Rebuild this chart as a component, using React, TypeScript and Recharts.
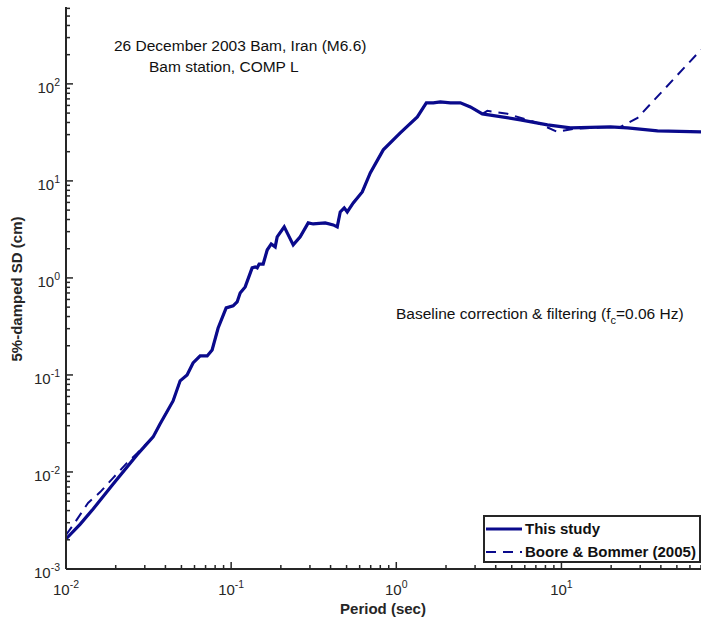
import React from "react";
import { LineChart, Line, XAxis, YAxis, Legend, Customized } from "recharts";

// This study (solid)
const periodStudy = [
  0.01, 0.0122, 0.0146, 0.0193, 0.0269, 0.0337, 0.0371, 0.0445, 0.0491, 0.0541,
  0.0588, 0.0649, 0.0716, 0.0767, 0.0834, 0.0933, 0.1028, 0.1087, 0.1134, 0.1216,
  0.134, 0.1398, 0.1438, 0.1478, 0.1563, 0.1653, 0.1748, 0.1848, 0.19, 0.2096,
  0.2216, 0.2376, 0.2619, 0.2929, 0.3141, 0.3713, 0.4152, 0.4389, 0.4577, 0.4839,
  0.5047, 0.5488, 0.6222, 0.6957, 0.834, 1.057, 1.341, 1.52, 1.676, 1.848,
  2.125, 2.443, 2.809, 3.32, 5.64, 8.23, 11.34, 19.8, 25.1, 38.2, 70,
];
const sdStudy = [
  0.00204, 0.0029, 0.00416, 0.0075, 0.015, 0.023, 0.0313, 0.054, 0.087, 0.1,
  0.133, 0.157, 0.157, 0.181, 0.305, 0.491, 0.515, 0.566, 0.7, 0.808,
  1.27, 1.3, 1.27, 1.39, 1.39, 1.94, 2.24, 2.09, 2.65, 3.36,
  2.78, 2.19, 2.65, 3.69, 3.6, 3.69, 3.52, 3.36, 4.79, 5.27,
  4.79, 5.93, 7.7, 12.1, 20.9, 31.2, 45.7, 63.7, 63.7, 65.2,
  63.7, 63.7, 57.9, 49.1, 42.6, 37.8, 35.2, 36.0, 35.2, 32.8, 32.0,
];

// Boore & Bommer (2005) (dashed)
const periodBoore = [
  0.01, 0.0113, 0.0136, 0.0161, 0.0193, 0.0234, 0.0269, 0.0337, 0.0371, 0.0445,
  0.0491, 0.0541, 0.0588, 0.0649, 0.0716, 0.0767, 0.0834, 0.0933, 0.1028, 0.1087,
  0.1134, 0.1216, 0.134, 0.1398, 0.1438, 0.1478, 0.1563, 0.1653, 0.1748, 0.1848,
  0.19, 0.2096, 0.2216, 0.2376, 0.2619, 0.2929, 0.3141, 0.3713, 0.4152, 0.4389,
  0.4577, 0.4839, 0.5047, 0.5488, 0.6222, 0.6957, 0.834, 1.057, 1.341, 1.52,
  1.676, 1.848, 2.125, 2.443, 2.809, 3.32, 3.56, 4.71, 7.15, 9.46,
  11.8, 19.8, 22.8, 28.9, 70,
];
const sdBoore = [
  0.00224, 0.003, 0.0048, 0.0062, 0.0087, 0.0124, 0.0155, 0.023, 0.0313, 0.054,
  0.087, 0.1, 0.133, 0.157, 0.157, 0.181, 0.305, 0.491, 0.515, 0.566,
  0.7, 0.808, 1.27, 1.3, 1.27, 1.39, 1.39, 1.94, 2.24, 2.09,
  2.65, 3.36, 2.78, 2.19, 2.65, 3.69, 3.6, 3.69, 3.52, 3.36,
  4.79, 5.27, 4.79, 5.93, 7.7, 12.1, 20.9, 31.2, 45.7, 63.7,
  63.7, 65.2, 63.7, 63.7, 57.9, 49.1, 52.7, 49.1, 39.6, 32.0,
  34.4, 36.0, 36.0, 44.6, 225,
];

const seriesNames = ["This study", "Boore & Bommer (2005)"];

const xDecades = [0.01, 0.1, 1, 10];
const yDecades = [0.001, 0.01, 0.1, 1, 10, 100];
const mantissas = [1, 2, 3, 4, 5, 6, 7, 8, 9];
const xTicks = xDecades.flatMap((d) => mantissas.map((m) => +(m * d).toPrecision(3))).filter((v) => v <= 70);
const yTicks = yDecades.flatMap((d) => mantissas.map((m) => +(m * d).toPrecision(3))).filter((v) => v <= 620);

const titleLines = ["26 December 2003 Bam, Iran (M6.6)", "Bam station, COMP L"];
const noteText = "Baseline correction & filtering (f";
const noteSub = "c";
const noteEnd = "=0.06 Hz)";
const xTitle = "Period (sec)";
const yTitle = "5%-damped SD (cm)";

const studyData = periodStudy.map((p, i) => ({ period: p, sd: sdStudy[i] }));
const booreData = periodBoore.map((p, i) => ({ period: p, sd: sdBoore[i] }));

const FONT = "'Liberation Sans', Arial, Helvetica, sans-serif";
const NAVY = "#0a0a8c";
const AXIS = "#262626";

function isMajor(v: number) {
  const l = Math.log10(v);
  return Math.abs(l - Math.round(l)) < 1e-6;
}

function BottomTick(props: any) {
  const { x, y, payload } = props;
  const v = payload.value;
  const major = isMajor(v);
  return (
    <g>
      <line x1={x} x2={x} y1={y} y2={y - (major ? 7 : 4)} stroke={AXIS} strokeWidth={1.5} />
      {major && (
        <text x={x} y={y + 26} textAnchor="middle" fontFamily={FONT} fontSize={15} fill={AXIS}>
          <tspan>10</tspan>
          <tspan dy={-7} fontSize={10.5}>{Math.round(Math.log10(v))}</tspan>
        </text>
      )}
    </g>
  );
}

function TopTick(props: any) {
  const { x, y, payload } = props;
  const major = isMajor(payload.value);
  return <line x1={x} x2={x} y1={y} y2={y + (major ? 7 : 4)} stroke={AXIS} strokeWidth={1.5} />;
}

function LeftTick(props: any) {
  const { x, y, payload } = props;
  const v = payload.value;
  const major = isMajor(v);
  return (
    <g>
      <line x1={x} x2={x + (major ? 7 : 4)} y1={y} y2={y} stroke={AXIS} strokeWidth={1.5} />
      {major && (
        <text x={x - 6} y={y + 9} textAnchor="end" fontFamily={FONT} fontSize={15} fill={AXIS}>
          <tspan>10</tspan>
          <tspan dy={-7} fontSize={10.5}>{Math.round(Math.log10(v))}</tspan>
        </text>
      )}
    </g>
  );
}

function Annotations() {
  return (
    <g fontFamily={FONT} fill="#111">
      <text x={114} y={51} fontSize={15.5}>{titleLines[0]}</text>
      <text x={149} y={72} fontSize={15.5}>{titleLines[1]}</text>
      <text x={396} y={319} fontSize={15.5}>
        {noteText}
        <tspan dy={5} fontSize={11}>{noteSub}</tspan>
        <tspan dy={-5}>{noteEnd}</tspan>
      </text>
      <text x={383} y={614} fontSize={15} fontWeight="bold" textAnchor="middle" fill={AXIS}>
        {xTitle}
      </text>
      <text
        x={22}
        y={289}
        fontSize={15}
        fontWeight="bold"
        textAnchor="middle"
        fill={AXIS}
        transform="rotate(-90 22 289)"
      >
        {yTitle}
      </text>
    </g>
  );
}

function LegendBox() {
  return (
    <svg width={218} height={48} style={{ display: "block" }}>
      <rect x={1} y={1} width={216} height={46} fill="#fff" stroke={AXIS} strokeWidth={2} />
      <line x1={3} x2={39} y1={14} y2={14} stroke={NAVY} strokeWidth={3} />
      <line x1={3} x2={39} y1={37} y2={37} stroke={NAVY} strokeWidth={2} strokeDasharray="10 7" />
      <text x={42} y={19} fontFamily={FONT} fontSize={15} fontWeight="bold" fill="#111">
        {seriesNames[0]}
      </text>
      <text x={42} y={42} fontFamily={FONT} fontSize={15} fontWeight="bold" fill="#111">
        {seriesNames[1]}
      </text>
    </svg>
  );
}

export default function App() {
  return (
    <div style={{ position: "absolute", left: 0, top: 0, background: "#fff" }}>
      <LineChart width={701} height={622} margin={{ top: 7, right: 0, bottom: 0, left: 0 }}>
        <XAxis
          dataKey="period"
          type="number"
          scale="log"
          domain={[0.01, 70]}
          allowDataOverflow
          ticks={xTicks}
          interval={0}
          tickSize={0}
          tickMargin={0}
          tickLine={false}
          tick={<BottomTick />}
          height={53}
          axisLine={{ stroke: AXIS, strokeWidth: 2 }}
        />
        <XAxis
          xAxisId="top"
          orientation="top"
          dataKey="period"
          type="number"
          scale="log"
          domain={[0.01, 70]}
          allowDataOverflow
          ticks={xTicks}
          interval={0}
          tickSize={0}
          tickMargin={0}
          tickLine={false}
          tick={<TopTick />}
          height={0}
          axisLine={{ stroke: AXIS, strokeWidth: 2 }}
        />
        <YAxis
          dataKey="sd"
          type="number"
          scale="log"
          domain={[0.001, 620]}
          allowDataOverflow
          ticks={yTicks}
          interval={0}
          tickSize={0}
          tickMargin={0}
          tickLine={false}
          tick={<LeftTick />}
          width={66}
          axisLine={{ stroke: AXIS, strokeWidth: 2 }}
        />
        <Line
          data={booreData}
          dataKey="sd"
          name={seriesNames[1]}
          stroke={NAVY}
          strokeWidth={2}
          strokeDasharray="10 7"
          dot={false}
          type="linear"
          isAnimationActive={false}
        />
        <Line
          data={studyData}
          dataKey="sd"
          name={seriesNames[0]}
          stroke={NAVY}
          strokeWidth={3.2}
          dot={false}
          type="linear"
          isAnimationActive={false}
        />
        <Customized component={Annotations} />
        <Legend
          layout="horizontal"
          verticalAlign="middle"
          align="center"
          content={() => <LegendBox />}
          wrapperStyle={{ left: 483, top: 515, width: 218, height: 48 }}
        />
      </LineChart>
    </div>
  );
}
